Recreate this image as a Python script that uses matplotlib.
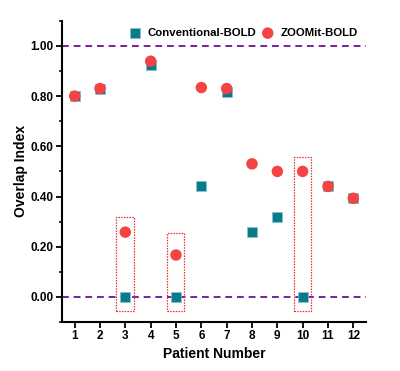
import numpy as np
import matplotlib
matplotlib.use("Agg")
import matplotlib.pyplot as plt
from matplotlib.patches import Rectangle
from matplotlib.ticker import MultipleLocator

plt.rcParams['font.family'] = ['Liberation Sans', 'DejaVu Sans']
plt.rcParams['font.weight'] = 'bold'

# data
patients = [1, 2, 3, 4, 5, 6, 7, 8, 9, 10, 11, 12]
conventional = [0.80, 0.83, 0.00, 0.924, 0.00, 0.44, 0.818, 0.258, 0.318, 0.00, 0.44, 0.393]
zoomit = [0.80, 0.83, 0.258, 0.939, 0.167, 0.834, 0.83, 0.53, 0.50, 0.50, 0.44, 0.393]
y_ticks = [0.0, 0.2, 0.4, 0.6, 0.8, 1.0]
ref_lines = [0.0, 1.0]
# highlighted patients: (patient, box bottom, box top)
boxes = [(3, -0.057, 0.318), (5, -0.057, 0.253), (10, -0.056, 0.558)]

teal = '#0b7b8b'
red = '#f54343'
purple = '#7b1fa2'

fig = plt.figure(figsize=(4.0, 3.71), dpi=100)
ax = fig.add_axes([0.155, 0.132, 0.76, 0.812])

for y in ref_lines:
    ax.axhline(y, color=purple, lw=1.4, ls=(0, (3.5, 2.5)), zorder=1)

for p, lo, hi in boxes:
    ax.add_patch(Rectangle((p - 0.35, lo), 0.68, hi - lo, fill=False,
                           ec='#e53030', lw=0.9, ls=(0, (1.2, 1.0)), zorder=2))

ax.scatter(patients, conventional, marker='s', s=62, color=teal,
           edgecolor='#7fc7cf', linewidth=0.5, zorder=3, label='Conventional-BOLD')
ax.scatter(patients, zoomit, marker='o', s=68, color=red,
           edgecolor='none', zorder=4, label='ZOOMit-BOLD')

ax.set_xlim(0.5, 12.5)
ax.set_ylim(-0.1, 1.1)
ax.set_xticks(patients)
ax.set_yticks(y_ticks)
ax.set_yticklabels([f'{v:.2f}' for v in y_ticks])
ax.yaxis.set_minor_locator(MultipleLocator(0.1))

for s in ['top', 'right']:
    ax.spines[s].set_visible(False)
ax.spines['left'].set_linewidth(1.5)
ax.spines['bottom'].set_linewidth(1.5)
ax.tick_params(axis='both', which='major', direction='out', length=4, width=1.3,
               labelsize=8.5, pad=2)
ax.tick_params(axis='y', which='minor', direction='out', length=2.5, width=1.1)

ax.set_xlabel('Patient Number', fontsize=10, fontweight='bold', labelpad=3)
ax.set_ylabel('Overlap Index', fontsize=10, fontweight='bold', labelpad=2)

ax.legend(loc='center', bbox_to_anchor=(0.595, 0.959), ncol=2, frameon=False,
          fontsize=8.2, handletextpad=0.5, columnspacing=0.4, borderaxespad=0.0,
          handlelength=1.2)

fig.savefig('out.png', dpi=100)
